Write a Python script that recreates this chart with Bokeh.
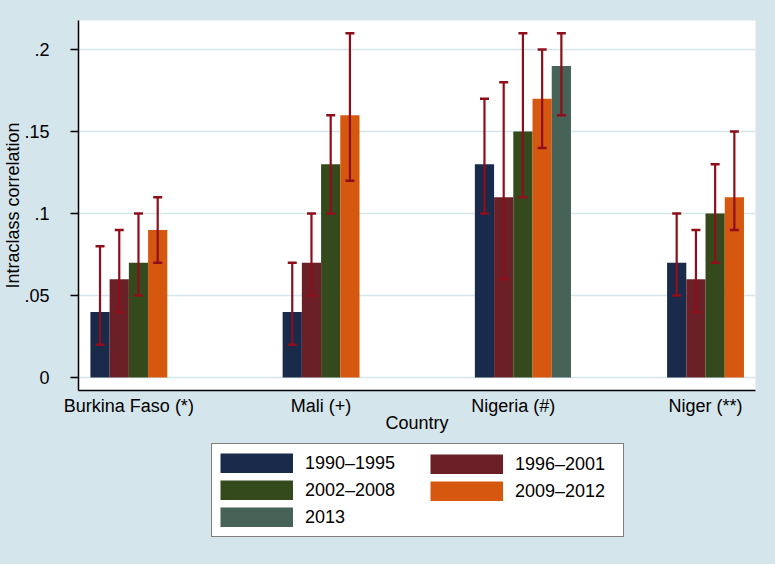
from bokeh.plotting import figure
from bokeh.layouts import column
from bokeh.models import (Range1d, FixedTicker, Legend, LegendItem, ColumnDataSource,
                          Whisker, TeeHead, GlobalInlineStyleSheet)
from bokeh.embed import file_html
from bokeh.resources import INLINE

# ---------------- data ----------------
countries = ["Burkina Faso (*)", "Mali (+)", "Nigeria (#)", "Niger (**)"]
periods = ["1990\u20131995", "1996\u20132001", "2002\u20132008", "2009\u20132012", "2013"]

icc_1990 = [0.04, 0.04, 0.13, 0.07]
lo_1990 = [0.02, 0.02, 0.10, 0.05]
hi_1990 = [0.08, 0.07, 0.17, 0.10]

icc_1996 = [0.06, 0.07, 0.11, 0.06]
lo_1996 = [0.04, 0.05, 0.06, 0.04]
hi_1996 = [0.09, 0.10, 0.18, 0.09]

icc_2002 = [0.07, 0.13, 0.15, 0.10]
lo_2002 = [0.05, 0.10, 0.11, 0.07]
hi_2002 = [0.10, 0.16, 0.21, 0.13]

icc_2009 = [0.09, 0.16, 0.17, 0.11]
lo_2009 = [0.07, 0.12, 0.14, 0.09]
hi_2009 = [0.11, 0.21, 0.20, 0.15]

icc_2013 = [None, None, 0.19, None]
lo_2013 = [None, None, 0.16, None]
hi_2013 = [None, None, 0.21, None]

y_ticks = [0, 0.05, 0.1, 0.15, 0.2]
y_tick_labels = ["0", ".05", ".1", ".15", ".2"]

series = [
    (icc_1990, lo_1990, hi_1990),
    (icc_1996, lo_1996, hi_1996),
    (icc_2002, lo_2002, hi_2002),
    (icc_2009, lo_2009, hi_2009),
    (icc_2013, lo_2013, hi_2013),
]

# ---------------- styling ----------------
BG = "#D5E5EC"
GRID = "#D5E5EC"
ERR = "#8E0F1A"
colors = ["#1A2A4A", "#6A2026", "#344A1C", "#D6580E", "#476256"]
FONT = "Liberation Sans"
SLOTS = 10  # slot pitch per country group (5 bars + gap)

p = figure(width=775, height=440, output_backend="svg", toolbar_location=None,
           x_range=Range1d(-0.62, 34.6), y_range=Range1d(-0.0079, 0.2177),
           min_border_left=77, min_border_right=20, min_border_top=20,
           min_border_bottom=50)
p.border_fill_color = BG
p.background_fill_color = "white"
p.outline_line_color = None
p.stylesheets = [GlobalInlineStyleSheet(css="body { background-color: %s; }" % BG)]

for s, (vals, los, his) in enumerate(series):
    xs, ys, ls, hs = [], [], [], []
    for g, v in enumerate(vals):
        if v is None:
            continue
        xs.append(g * SLOTS + s + 0.5)
        ys.append(v)
        ls.append(los[g])
        hs.append(his[g])
    src = ColumnDataSource(dict(x=xs, top=ys, lo=ls, hi=hs))
    p.vbar(x="x", top="top", bottom=0, width=1.0, source=src,
           fill_color=colors[s], line_color=None)
    w = Whisker(base="x", upper="hi", lower="lo", source=src, level="overlay",
                line_color=ERR, line_width=2.2,
                upper_head=TeeHead(size=9, line_color=ERR, line_width=2.5),
                lower_head=TeeHead(size=9, line_color=ERR, line_width=2.5))
    p.add_layout(w)

# grid
p.xgrid.grid_line_color = None
p.ygrid.ticker = FixedTicker(ticks=y_ticks)
p.ygrid.grid_line_color = GRID
p.ygrid.grid_line_width = 1.5

# y axis
ya = p.yaxis[0]
ya.ticker = FixedTicker(ticks=y_ticks)
ya.major_label_overrides = dict(zip(y_ticks, y_tick_labels))
ya.axis_label = "Intraclass correlation"
ya.axis_label_text_font = FONT
ya.axis_label_text_font_size = "18px"
ya.axis_label_text_font_style = "normal"
ya.axis_label_text_color = "black"
ya.axis_label_standoff = -2
ya.major_label_text_font = FONT
ya.major_label_text_font_size = "18px"
ya.major_label_text_color = "black"
ya.major_label_standoff = 21
ya.major_tick_in = 0
ya.major_tick_out = 8
ya.major_tick_line_width = 1.5
ya.minor_tick_line_color = None
ya.axis_line_width = 1.5
ya.axis_line_color = "black"

# x axis
tick_pos = [g * SLOTS + 2 for g in range(len(countries))]
xa = p.xaxis[0]
xa.ticker = FixedTicker(ticks=tick_pos)
xa.major_label_overrides = dict(zip(tick_pos, countries))
xa.axis_label = "Country"
xa.axis_label_text_font = FONT
xa.axis_label_text_font_size = "18px"
xa.axis_label_text_font_style = "normal"
xa.axis_label_text_color = "black"
xa.axis_label_standoff = -6
xa.major_label_text_font = FONT
xa.major_label_text_font_size = "18px"
xa.major_label_text_color = "black"
xa.major_label_standoff = 5
xa.major_tick_in = 0
xa.major_tick_out = 0
xa.minor_tick_line_color = None
xa.axis_line_width = 1.5
xa.axis_line_color = "black"

# ---------------- legend strip ----------------
p2 = figure(width=775, height=124, output_backend="svg", toolbar_location=None,
            x_range=Range1d(0, 1), y_range=Range1d(0, 1),
            x_axis_type=None, y_axis_type=None,
            min_border_left=0, min_border_right=0, min_border_top=0,
            min_border_bottom=0)
p2.border_fill_color = BG
p2.background_fill_color = BG
p2.outline_line_color = None
p2.xgrid.grid_line_color = None
p2.ygrid.grid_line_color = None

nan = float("nan")
swatches = []
for s in range(len(periods)):
    swatches.append(p2.line(x=[nan, nan], y=[nan, nan], line_color=colors[s],
                            line_width=20, line_cap="butt"))

common = dict(glyph_width=73, glyph_height=20, label_standoff=12,
              label_height=22, spacing=5, padding=8, margin=0,
              label_text_font=FONT, label_text_font_size="18px",
              label_text_color="black")

left_idx = [0, 2, 4]
right_idx = [1, 3]
leg1 = Legend(items=[LegendItem(label=periods[i], renderers=[swatches[i]]) for i in left_idx],
              location=(133, 27), label_width=310,
              border_line_color="black", border_line_width=1,
              background_fill_color="white", background_fill_alpha=1.0, **common)
leg2 = Legend(items=[LegendItem(label=periods[i], renderers=[swatches[i]]) for i in right_idx],
              location=(352, 62), label_width=100,
              border_line_color=None, background_fill_alpha=0.0, **common)
p2.add_layout(leg1)
p2.add_layout(leg2)

layout = column(p, p2, spacing=0)
open("out.html", "w").write(file_html(layout, INLINE))
